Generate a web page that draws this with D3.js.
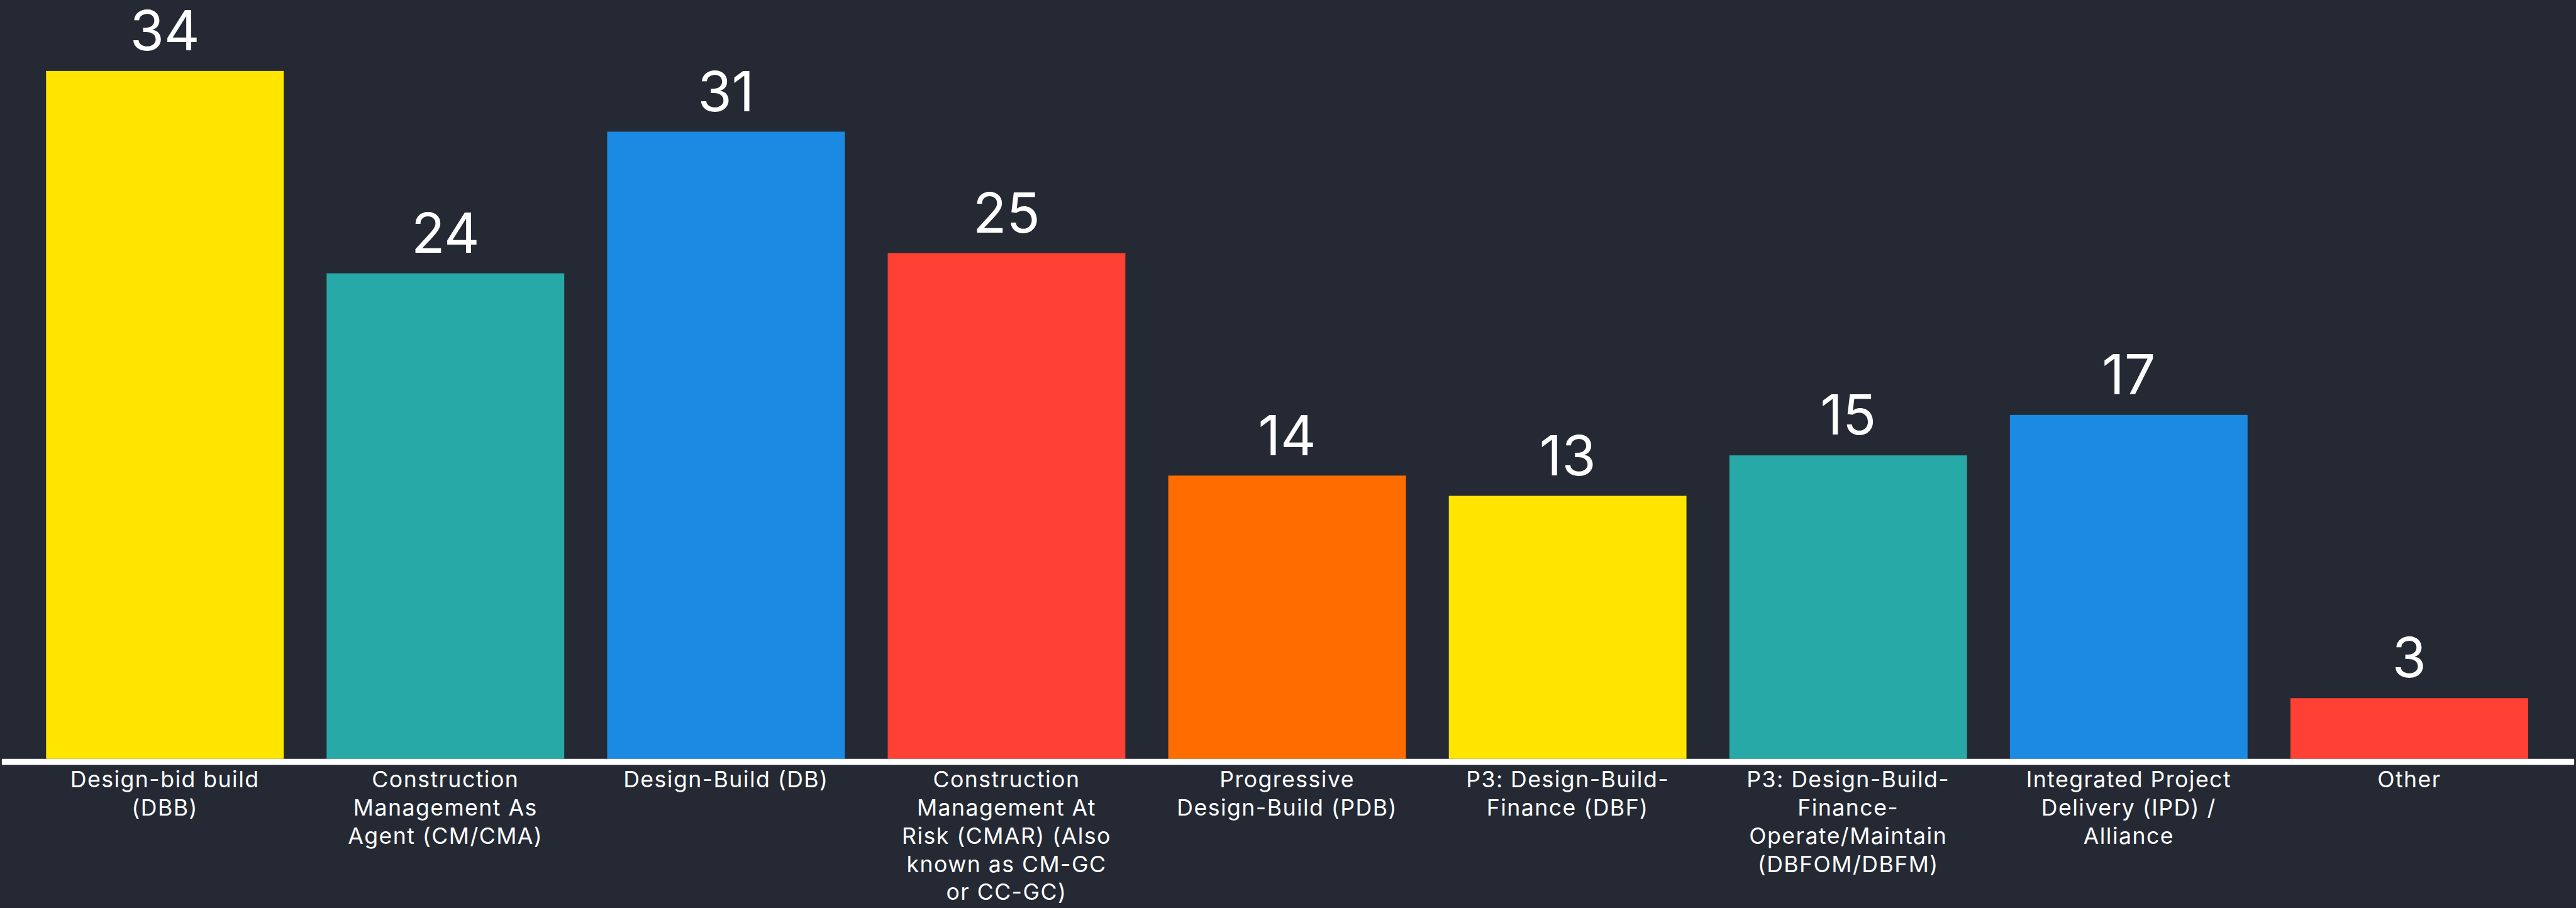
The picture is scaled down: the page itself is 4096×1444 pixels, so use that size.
<!DOCTYPE html>
<meta charset="UTF-8">
<head>
<script src="https://d3js.org/d3.v7.min.js"></script>
<style>
html, body { margin: 0; padding: 0; background: #242933; overflow: hidden; }
svg { display: block; }
.value { font: 400 91px Inter, "Open Sans", sans-serif; fill: #fff; }
.tick text { font: 400 37px Inter, "Open Sans", sans-serif; letter-spacing: 1.5px; fill: #fff; }
</style>
</head>
<body>
<div id="chart"></div>
<script>

// categories, split into the lines they wrap to under each bar
var categories = [
  ["Design-bid build", "(DBB)"],
  ["Construction", "Management As", "Agent (CM/CMA)"],
  ["Design-Build (DB)"],
  ["Construction", "Management At", "Risk (CMAR) (Also", "known as CM-GC", "or CC-GC)"],
  ["Progressive", "Design-Build (PDB)"],
  ["P3: Design-Build-", "Finance (DBF)"],
  ["P3: Design-Build-", "Finance-", "Operate/Maintain", "(DBFOM/DBFM)"],
  ["Integrated Project", "Delivery (IPD) /", "Alliance"],
  ["Other"]
];
var values = [34, 24, 31, 25, 14, 13, 15, 17, 3];
var colors = ["#ffe500", "#27a9a7", "#1a8ae3", "#ff4035", "#ff6d00", "#ffe500", "#27a9a7", "#1a8ae3", "#ff4035"];

// work in the reference's pixel space, viewBox scales it down to the window
var W = 4250, H = 1498;
var base = 1252;

var svg = d3.select("#chart").append("svg")
    .attr("width", 4096)
    .attr("height", 1444)
    .attr("viewBox", "0 0 " + W + " " + H);

svg.append("rect")
    .attr("width", W)
    .attr("height", H)
    .attr("fill", "#242933");

var keys = categories.map(function(d) { return d.join(" "); });

var x = d3.scaleBand()
    .domain(keys)
    .range([76, 4171])
    .paddingInner(0.153)
    .paddingOuter(0);

var y = d3.scaleLinear()
    .domain([0, 34])
    .range([base, 117]);

// bars
svg.selectAll("rect.bar")
    .data(values)
  .enter().append("rect")
    .attr("class", "bar")
    .attr("x", function(d, i) { return x(keys[i]); })
    .attr("y", function(d) { return y(d); })
    .attr("width", x.bandwidth())
    .attr("height", function(d) { return base - y(d); })
    .attr("fill", function(d, i) { return colors[i]; });

// value labels
svg.selectAll("text.value")
    .data(values)
  .enter().append("text")
    .attr("class", "value")
    .attr("x", function(d, i) { return x(keys[i]) + x.bandwidth() / 2; })
    .attr("y", function(d) { return y(d) - 34; })
    .attr("text-anchor", "middle")
    .text(function(d) { return d; });

// baseline
svg.append("rect")
    .attr("x", 3)
    .attr("y", base)
    .attr("width", 4244)
    .attr("height", 10)
    .attr("fill", "#ffffff");

// category labels via axis, then wrapped into tspans
var axis = svg.append("g")
    .attr("transform", "translate(0," + base + ")")
    .call(d3.axisBottom(x).tickSize(0).tickPadding(0));

axis.select(".domain").remove();

axis.selectAll(".tick text")
    .attr("y", 0)
    .attr("dy", null)
    .each(function(d, i) {
      var t = d3.select(this).text(null);
      categories[i].forEach(function(line, j) {
        t.append("tspan")
          .attr("x", 0)
          .attr("y", 47 + j * 46.5)
          .text(line);
      });
    });

</script>
</body>
